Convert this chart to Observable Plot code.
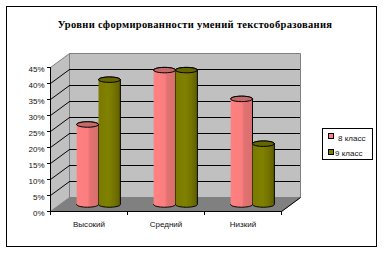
<!DOCTYPE html>
<html lang="ru"><head><meta charset="utf-8">
<script src="https://cdn.jsdelivr.net/npm/d3@7"></script>
<script src="https://cdn.jsdelivr.net/npm/@observablehq/plot@0.6"></script>
<style>
html,body{margin:0;padding:0;background:#fff;width:384px;height:253px;overflow:hidden}
#frame{position:absolute;left:6px;top:6px;width:369px;height:239px;border:1px solid #000;box-sizing:content-box}
#title{position:absolute;left:0;top:19px;width:390px;text-align:center;font:bold 10.5px "Liberation Serif",serif;letter-spacing:.32px;color:#000;white-space:nowrap}
#chart{position:absolute;left:0;top:0}
#legend{position:absolute;left:322px;top:128px;width:49px;height:30px;border:1px solid #000;background:#fff;font:8px "Liberation Sans",sans-serif;color:#111}
.k{position:absolute;left:5px;width:4px;height:4px;border:1px solid #000}
.l{position:absolute;white-space:nowrap;line-height:8px}
</style></head><body>
<div id="frame"></div>
<div id="chart"></div>
<div id="title">Уровни сформированности умений текстообразования</div>
<div id="legend">
<span class="k" style="top:4px;background:#ff8080"></span><span class="l" style="left:15px;top:6px">8 класс</span>
<span class="k" style="top:20px;background:#808000"></span><span class="l" style="left:12px;top:21px">9 класс</span>
</div>
<script>
const categories = ["Высокий", "Средний", "Низкий"];
const grade8 = [25, 42, 33];
const grade9 = [39, 42, 19];
const yTicks = [0, 5, 10, 15, 20, 25, 30, 35, 40, 45];
const yMax = 45;

const depthX = 19, depthY = -14;
const depthXu = 19 / 77, depthYu = 14 / 3.2;
const halfW = 0.142, rx = 0.142, ry = 0.85;

function ellipsePts(cx, cy, from, to) {
  const a = [];
  for (let i = 0; i <= 24; i++) {
    const t = from + (to - from) * i / 24;
    a.push([cx + rx * Math.cos(t), cy + ry * Math.sin(t)]);
  }
  return a;
}
const bars = [];
categories.forEach((c, i) => {
  bars.push({key: c + "8", cx: i + 0.5 - halfW, v: grade8[i], grad: "url(#gp)", top: "#c46a6a"});
  bars.push({key: c + "9", cx: i + 0.5 + halfW, v: grade9[i], grad: "url(#go)", top: "#666600"});
});
const bodyPts = [], topPts = [];
bars.forEach(b => {
  const body = [...ellipsePts(b.cx, 0, Math.PI, 2 * Math.PI), ...ellipsePts(b.cx, b.v, 0, Math.PI)];
  body.forEach(p => bodyPts.push({key: b.key, x: p[0], y: p[1], paint: b.grad}));
  ellipsePts(b.cx, b.v, 0, 2 * Math.PI).forEach(p => topPts.push({key: b.key, x: p[0], y: p[1], paint: b.top}));
});
const side = [[0,0],[0,yMax],[1,yMax],[1,0]].map(([k,y]) => ({x: k * depthXu, y: y + k * depthYu}));
const floor = [[0,0],[depthXu,depthYu],[3 + depthXu,depthYu],[3,0]].map(([x,y]) => ({x,y}));
const wall = [[0,0],[3,0],[3,yMax],[0,yMax],[0,0]].map(([x,y]) => ({x: x + depthXu, y: y + depthYu}));

const defs = () => {
  const s = d3.create("svg:defs");
  const g = (id, stops) => {
    const l = s.append("linearGradient").attr("id", id);
    stops.forEach(([o, c]) => l.append("stop").attr("offset", o).attr("stop-color", c));
  };
  g("gp", [[0,"#ff8080"],[.5,"#fb7e7e"],[.62,"#e27272"],[1,"#d96e6e"]]);
  g("go", [[0,"#7a7a00"],[.45,"#808000"],[.7,"#757500"],[1,"#5f5f00"]]);
  return s.node();
};

const chart = Plot.plot({
  width: 384, height: 253,
  marginLeft: 50, marginRight: 103, marginTop: 67, marginBottom: 42,
  style: {background: "transparent", fontFamily: "'Liberation Sans',sans-serif", fontSize: "8px", color: "#111", overflow: "visible"},
  x: {domain: [0, 3], axis: null},
  y: {domain: [0, yMax], axis: null},
  color: {type: "identity"},
  marks: [
    defs,
    Plot.line(side, {x: "x", y: "y", fill: "#c0c0c0", stroke: "#808080", strokeWidth: 1}),
    Plot.line(wall, {x: "x", y: "y", fill: "#c0c0c0", stroke: "#808080", strokeWidth: 1}),
    Plot.line(floor, {x: "x", y: "y", fill: "#808080", stroke: "#808080", strokeWidth: 1}),
    Plot.ruleY(yTicks.slice(1, -1), {x1: 0, x2: 3, dx: depthX, dy: depthY, stroke: "#000", shapeRendering: "crispEdges"}),
    Plot.link(yTicks.slice(1, -1), {x1: 0, x2: depthXu, y1: d => d, y2: d => d + depthYu, stroke: "#000"}),
    Plot.link([0], {x1: 3, x2: 3 + depthXu, y1: 0, y2: depthYu, stroke: "#000"}),
    Plot.ruleX([0], {y1: 0, y2: yMax, stroke: "#000", shapeRendering: "crispEdges"}),
    Plot.ruleY([0], {x1: 0, x2: 3, stroke: "#000", shapeRendering: "crispEdges"}),
    Plot.axisY({ticks: yTicks, tickSize: 3, text: null, label: null, stroke: "#000"}),
    Plot.text(yTicks, {x: 0, y: d => d, text: d => d + "%", textAnchor: "end", dx: -6, dy: 2, fill: "#111", fontSize: 8}),
    Plot.axisX({ticks: [0, 1, 2, 3], tickSize: 4, text: null, label: null, stroke: "#000"}),
    Plot.text(categories, {x: (d, i) => i + 0.5, y: 0, text: d => d, dy: 13, fill: "#111", fontSize: 8, letterSpacing: ".2px"}),
    Plot.line(bodyPts, {x: "x", y: "y", z: "key", fill: "paint", stroke: "#000", strokeWidth: 1, dx: 9.5, dy: -7}),
    Plot.line(topPts, {x: "x", y: "y", z: "key", fill: "paint", stroke: "#000", strokeWidth: 1, dx: 9.5, dy: -7})
  ]
});
document.getElementById("chart").appendChild(chart);
</script>
</body></html>
